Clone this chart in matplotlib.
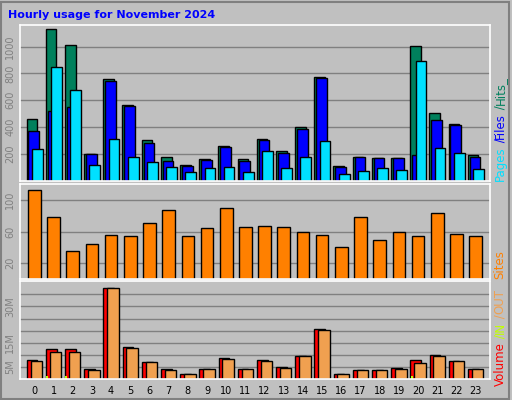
import matplotlib
matplotlib.use("Agg")
import matplotlib.pyplot as plt
import numpy as np

hours = list(range(24))
hits = [459,1133,1015,200,755,563,304,178,119,163,259,163,314,222,400,770,114,178,170,170,1007,504,422,193]
files = [370,521,548,200,741,556,281,148,111,156,252,148,304,207,385,763,104,178,170,170,193,452,415,178]
pages = [237,849,674,119,311,178,141,104,67,96,104,67,222,96,178,296,52,74,96,81,896,244,207,89]
sites = [113,78,36,44,55,54,71,87,54,64,90,66,67,66,59,55,41,78,49,59,54,83,57,54]
vol = [7.8,12.4,12.4,4.0,37.8,13.2,6.9,4.0,1.9,4.0,8.6,4.0,7.8,4.9,9.4,20.7,1.9,3.6,3.6,4.4,7.8,9.9,7.4,4.0]
vout = [7.4,11.1,11.1,3.6,37.8,12.8,6.9,3.6,1.9,4.0,8.2,4.0,7.4,4.4,9.4,20.3,1.9,3.6,3.6,4.0,6.5,9.4,7.4,4.0]
vin = [0.1,1.2,1.2,0.1,0.1,0.1,0.1,0.1,0.1,0.1,0.1,0.1,0.1,0.1,0.1,0.1,0.1,0.1,0.1,0.1,1.2,0.1,0.1,0.1]

W, H = 512, 400
fig = plt.figure(figsize=(W/100, H/100), dpi=100, facecolor="#c0c0c0")
fig.patches.append(plt.Rectangle((0.002, 0.003), 0.993, 0.993, transform=fig.transFigure,
                                 fill=False, edgecolor="#808080", linewidth=1.5))

def ax_at(x0, y0, x1, y1):
    ax = fig.add_axes([x0/W, 1-y1/H, (x1-x0)/W, (y1-y0)/H])
    ax.set_facecolor("#c0c0c0")
    for s in ax.spines.values():
        s.set_color("white"); s.set_linewidth(1.2)
    ax.set_xlim(-0.75, 23.75)
    ax.tick_params(length=0, labelsize=7, colors="#808080")
    ax.set_axisbelow(True)
    ax.yaxis.grid(True, color="#808080", linewidth=1)
    return ax

x = np.array(hours)
ek = dict(edgecolor="black", linewidth=1)

a1 = ax_at(20, 25, 490, 181)
a1.bar(x-0.13, hits, width=0.56, color="#00805c", **ek)
a1.bar(x-0.03, files, width=0.56, color="#0000ff", **ek)
a1.bar(x+0.15, pages, width=0.56, color="#00e0ff", **ek)
a1.set_ylim(0, 1160)
a1.set_yticks([200,400,600,800,1000])
a1.set_yticklabels(["200","400","600","800","1000"], rotation=90, va="center")
a1.set_xticks([])

a2 = ax_at(20, 184, 490, 279)
a2.bar(x, sites, width=0.66, color="#ff8000", **ek)
a2.set_ylim(0, 120)
a2.set_yticks([20,60,100])
a2.set_yticklabels(["20","60","100"], rotation=90, va="center")
a2.set_xticks([])

a3 = ax_at(20, 281, 490, 379)
a3.bar(x-0.12, vol, width=0.56, color="#ff0000", **ek)
a3.bar(x+0.1, vout, width=0.6, color="#f0a050", **ek)
a3.bar(x-0.33, vin, width=0.1, color="#c0ff00", linewidth=0)
a3.set_ylim(0, 40.5)
a3.set_yticks([5,10,15,20,25,30,35])
a3.set_yticklabels(["5M","","15M","","","30M",""], rotation=90, va="center")
a3.set_xticks(hours)
a3.set_xticklabels([str(h) for h in hours], color="black", fontsize=7)
a3.tick_params(axis="x", pad=5)

fig.text(8/W, 1-15/H, "Hourly usage for November 2024", color="#0000ff",
         fontsize=8, fontweight="bold", va="center")

def vtext(y, parts):
    yy = y
    for t, c in parts:
        tt = fig.text(500/W, 1-yy/H, t, color=c, rotation=90, fontsize=8.5,
                      va="bottom", ha="center")
        fig.canvas.draw()
        bb = tt.get_window_extent()
        yy -= bb.height
vtext(181, [("Pages", "#00e0ff"), (" /", "#0000ff"), ("Files", "#0000ff"), (" /", "#00805c"), ("Hits_", "#00805c")])
vtext(279, [("Sites", "#ff8000")])
vtext(386, [("Volume", "#ff0000"), (" /", "#c0ff00"), ("IN", "#c0ff00"), (" /", "#f0a050"), ("OUT", "#f0a050")])

fig.savefig("out.png", dpi=100, facecolor=fig.get_facecolor())
